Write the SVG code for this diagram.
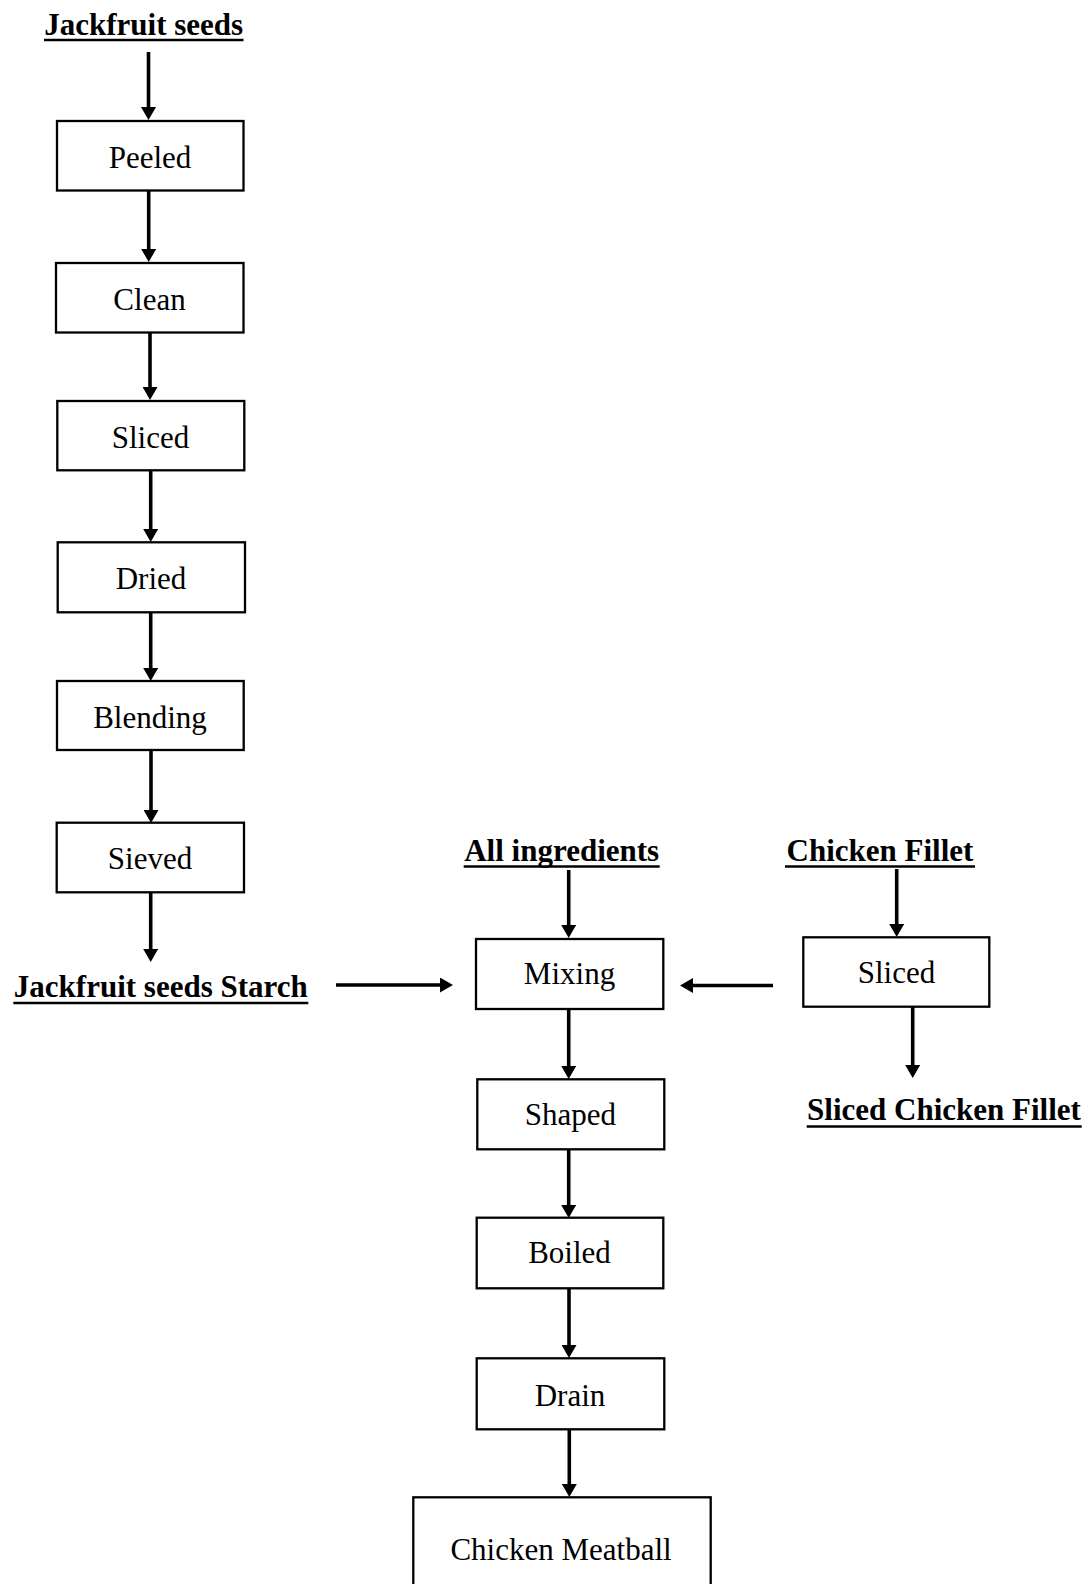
<svg xmlns="http://www.w3.org/2000/svg" width="1091" height="1584" viewBox="0 0 1091 1584">
  <style>
    .box { fill: #ffffff; stroke: #000000; stroke-width: 2.3; }
    .lbl { font-family: "Liberation Serif", "Times New Roman", serif; font-size: 31px; fill: #000000; text-anchor: middle; }
    .ttl { font-family: "Liberation Serif", "Times New Roman", serif; font-size: 31px; font-weight: bold; fill: #000000; text-anchor: middle; }
    .ul { stroke: #000000; stroke-width: 2.4; }
    .conn { stroke: #000000; stroke-width: 3.6; fill: none; marker-end: url(#arrow); }
  </style>
  <defs>
    <marker id="arrow" markerUnits="userSpaceOnUse" viewBox="0 0 13 15" refX="5" refY="7.5" markerWidth="13" markerHeight="15" orient="auto">
      <path d="M0,0 L13,7.5 L0,15 Z" fill="#000000"/>
    </marker>
  </defs>
  <rect width="1091" height="1584" fill="#ffffff"/>

  <g id="connectors">
    <line class="conn" x1="148.5" y1="52" x2="148.5" y2="112"/>
    <line class="conn" x1="148.7" y1="191" x2="148.7" y2="254"/>
    <line class="conn" x1="150" y1="332" x2="150" y2="392"/>
    <line class="conn" x1="150.7" y1="470" x2="150.7" y2="534"/>
    <line class="conn" x1="150.7" y1="612" x2="150.7" y2="673"/>
    <line class="conn" x1="151" y1="750" x2="151" y2="815"/>
    <line class="conn" x1="150.7" y1="892" x2="150.7" y2="954"/>
    <line class="conn" x1="336" y1="985" x2="445" y2="985"/>
    <line class="conn" x1="773" y1="985.5" x2="688" y2="985.5"/>
    <line class="conn" x1="568.7" y1="870" x2="568.7" y2="930"/>
    <line class="conn" x1="896.7" y1="869" x2="896.7" y2="929"/>
    <line class="conn" x1="912.7" y1="1007" x2="912.7" y2="1070"/>
    <line class="conn" x1="568.7" y1="1009" x2="568.7" y2="1071"/>
    <line class="conn" x1="568.7" y1="1149" x2="568.7" y2="1210"/>
    <line class="conn" x1="569" y1="1288" x2="569" y2="1350"/>
    <line class="conn" x1="569.3" y1="1429" x2="569.3" y2="1489"/>
  </g>

  <g id="jackfruit-seeds">
    <text class="ttl" x="143.7" y="35">Jackfruit seeds</text>
    <line class="ul" x1="44" y1="40" x2="243.5" y2="40"/>
  </g>
  <g id="peeled">
    <rect class="box" x="57" y="121" width="186.5" height="69.5"/>
    <text class="lbl" x="150" y="168">Peeled</text>
  </g>
  <g id="clean">
    <rect class="box" x="56" y="263" width="187.5" height="69.5"/>
    <text class="lbl" x="149.5" y="310">Clean</text>
  </g>
  <g id="sliced-left">
    <rect class="box" x="57.3" y="401" width="187" height="69.3"/>
    <text class="lbl" x="150.5" y="448">Sliced</text>
  </g>
  <g id="dried">
    <rect class="box" x="57.7" y="542.3" width="187.3" height="70"/>
    <text class="lbl" x="151" y="589">Dried</text>
  </g>
  <g id="blending">
    <rect class="box" x="57" y="681" width="186.7" height="69"/>
    <text class="lbl" x="150" y="728">Blending</text>
  </g>
  <g id="sieved">
    <rect class="box" x="56.7" y="822.7" width="187.3" height="69.6"/>
    <text class="lbl" x="150" y="869">Sieved</text>
  </g>
  <g id="jackfruit-seeds-starch">
    <text class="ttl" x="160.8" y="997">Jackfruit seeds Starch</text>
    <line class="ul" x1="13.3" y1="1003" x2="308.3" y2="1003"/>
  </g>
  <g id="all-ingredients">
    <text class="ttl" x="561.7" y="861">All ingredients</text>
    <line class="ul" x1="463.7" y1="866.5" x2="659.7" y2="866.5"/>
  </g>
  <g id="chicken-fillet">
    <text class="ttl" x="880" y="861">Chicken Fillet</text>
    <line class="ul" x1="785" y1="866.5" x2="975" y2="866.5"/>
  </g>
  <g id="mixing">
    <rect class="box" x="476" y="939" width="187.3" height="70"/>
    <text class="lbl" x="569.5" y="984">Mixing</text>
  </g>
  <g id="sliced-right">
    <rect class="box" x="803.3" y="937.3" width="186" height="69.4"/>
    <text class="lbl" x="896.5" y="983">Sliced</text>
  </g>
  <g id="sliced-chicken-fillet">
    <text class="ttl" x="944" y="1120">Sliced Chicken Fillet</text>
    <line class="ul" x1="806.7" y1="1126.5" x2="1081.7" y2="1126.5"/>
  </g>
  <g id="shaped">
    <rect class="box" x="477.3" y="1079.3" width="187" height="70"/>
    <text class="lbl" x="570.5" y="1125">Shaped</text>
  </g>
  <g id="boiled">
    <rect class="box" x="476.7" y="1217.7" width="186.6" height="70.6"/>
    <text class="lbl" x="569.5" y="1263.3">Boiled</text>
  </g>
  <g id="drain">
    <rect class="box" x="476.7" y="1358.3" width="187.6" height="71"/>
    <text class="lbl" x="570" y="1406">Drain</text>
  </g>
  <g id="chicken-meatball">
    <rect class="box" x="413.3" y="1497.3" width="297.4" height="120"/>
    <text class="lbl" x="561" y="1560">Chicken Meatball</text>
  </g>
</svg>
